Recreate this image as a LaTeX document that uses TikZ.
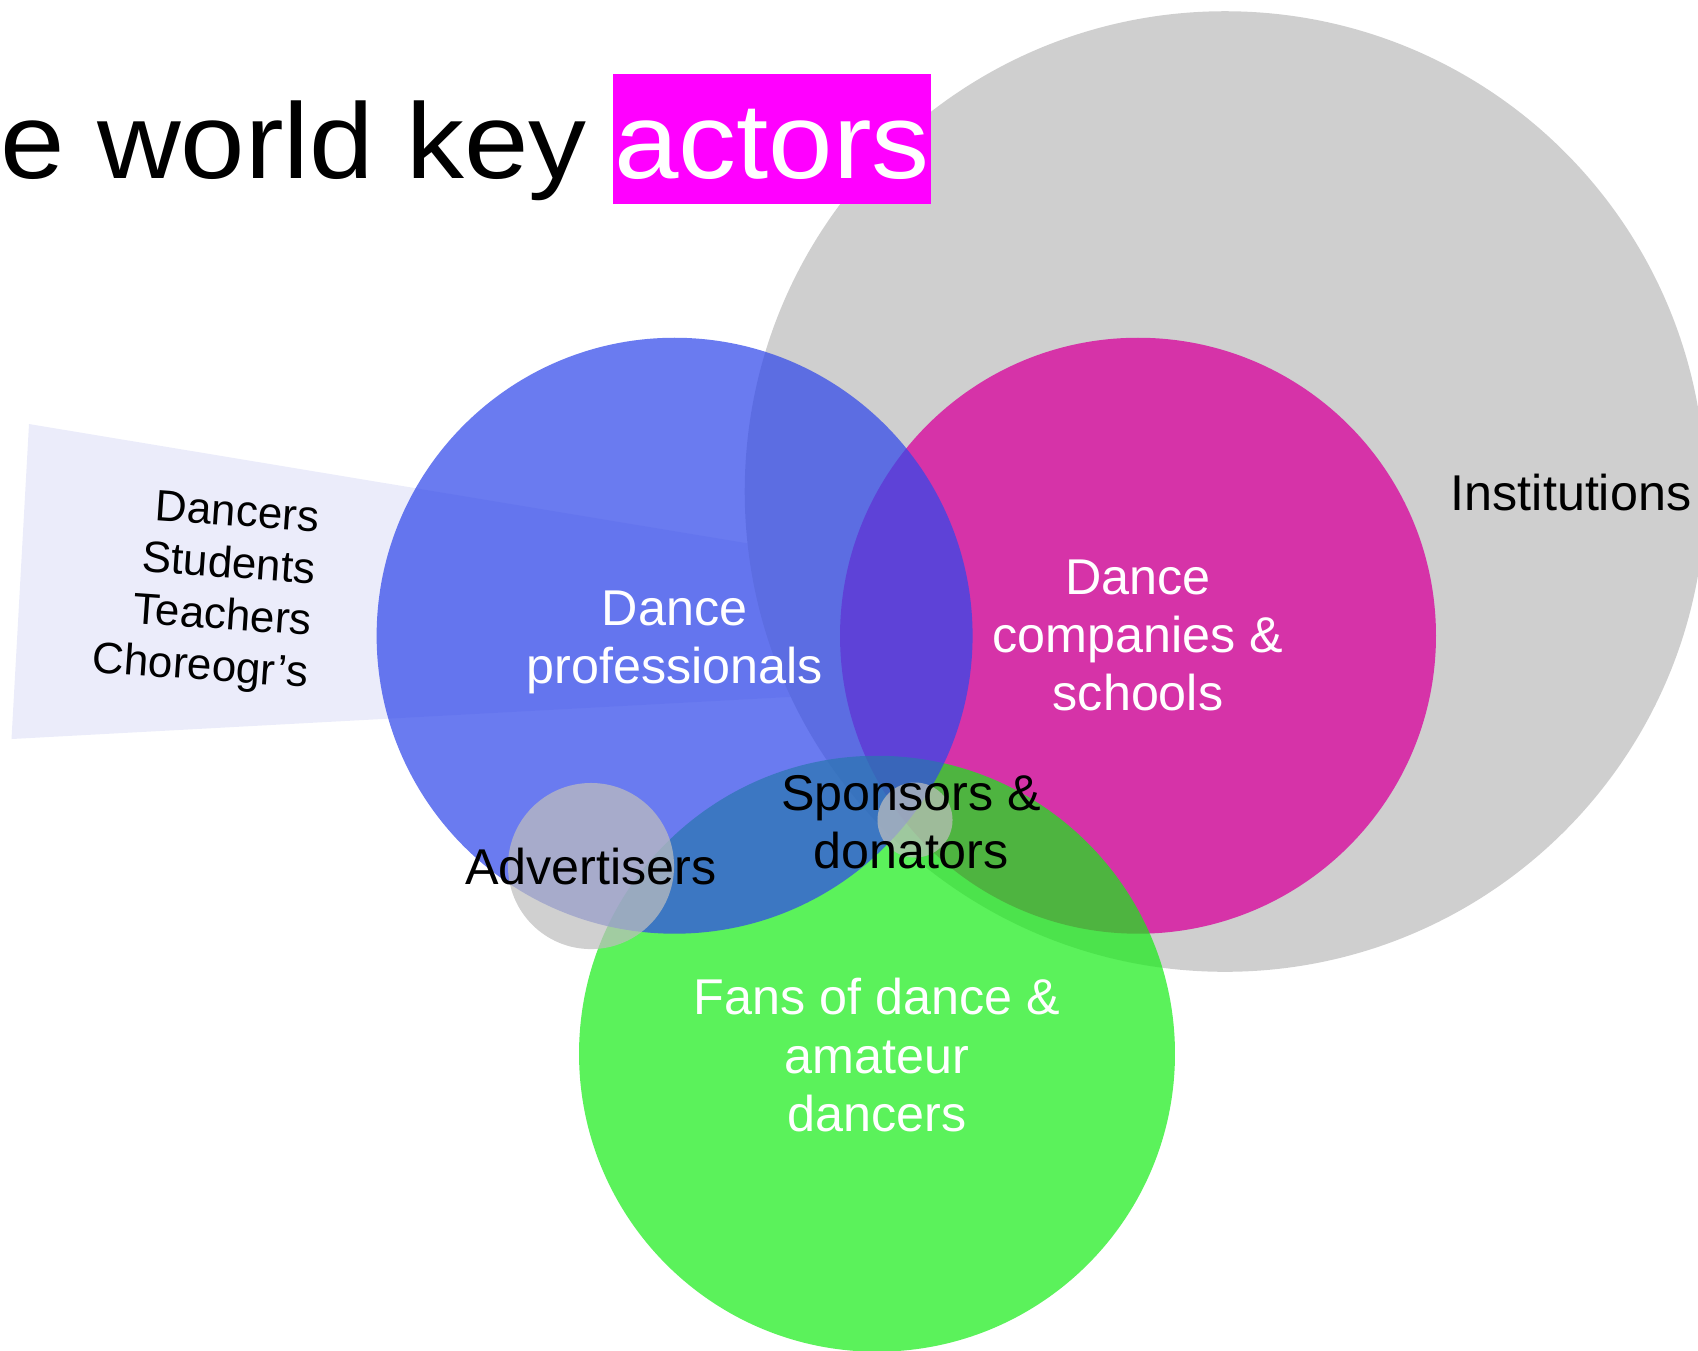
\documentclass[tikz,border=0pt]{standalone}
\usepackage{fontspec}
\setmainfont{Liberation Sans}
\newfontfamily\headfont[FakeStretch=1.08]{Liberation Sans}

\definecolor{bigGray}{HTML}{CFCFCF}
\definecolor{proBlue}{RGB}{49,72,234}
\definecolor{compMagenta}{HTML}{D633A8}
\definecolor{fanGreen}{RGB}{21,236,21}
\definecolor{smallGray}{RGB}{190,190,190}
\definecolor{wedgeLav}{HTML}{EBECFA}
\definecolor{titleMagenta}{HTML}{FF00FF}

\begin{document}
\begin{tikzpicture}[x=0.01cm, y=-0.01cm,
    lbl/.style={font=\fontsize{14.3}{16.5}\selectfont, align=center, inner sep=0pt},
    rolelbl/.style={font=\fontsize{12.5}{14.8}\selectfont, align=right, inner sep=0pt},
    titletxt/.style={font=\headfont\fontsize{30.5}{36}\selectfont, inner sep=0pt}]
        \useasboundingbox (0,0) rectangle (1698,1350);

        \coordinate (inst) at (1225, 491.5);
        \coordinate (pro) at (674.6, 635.7);
        \coordinate (comp) at (1138, 635.7);
        \coordinate (fans) at (877, 1053.7);
        \coordinate (adv) at (591, 866);
        \coordinate (spon) at (915, 820);

        % wedge behind everything
        \fill[wedgeLav] (29, 424) -- (900, 568.6) -- (900, 691) -- (11.5, 739) -- cycle;

        \fill[bigGray] (inst) circle [radius = 4.8cm];
        \fill[compMagenta] (comp) circle [radius = 2.978cm];
        \fill[fanGreen, opacity=0.7] (fans) circle [radius = 2.978cm];
        \fill[proBlue, opacity=0.72] (pro) circle [radius = 2.978cm];
        \fill[smallGray, opacity=0.72] (adv) circle [radius = 0.83cm];
        \fill[smallGray, opacity=0.72] (spon) circle [radius = 0.375cm];

        \node[lbl, text=white] (protxt) at (674.6, 642) {Dance\\professionals};
        \node[lbl, text=white] (comptxt) at (comp) {Dance\\companies \&\\schools};
        \node[lbl, text=white] (fantxt) at (877, 1055) {Fans of dance \&\\amateur\\dancers};
        \node[lbl] (insttxt) at (1571, 492) {Institutions};
        \node[lbl] (spontxt) at (911, 822) {Sponsors \&\\donators};
        \node[lbl] (advtxt) at (adv) {Advertisers};
        \node[rolelbl, rotate=-4, anchor=east] (roles) at (314, 599) {Dancers\\Students\\Teachers\\Choreogr’s};

        \node[titletxt, anchor=base west] (head) at (0, 178) {e world key};
        \node[titletxt, anchor=base west, fill=titleMagenta, text=white,
              text height=29.5pt, text depth=7.5pt, minimum width=3.18cm] (actors) at (612, 178) {actors};
\end{tikzpicture}
\end{document}
